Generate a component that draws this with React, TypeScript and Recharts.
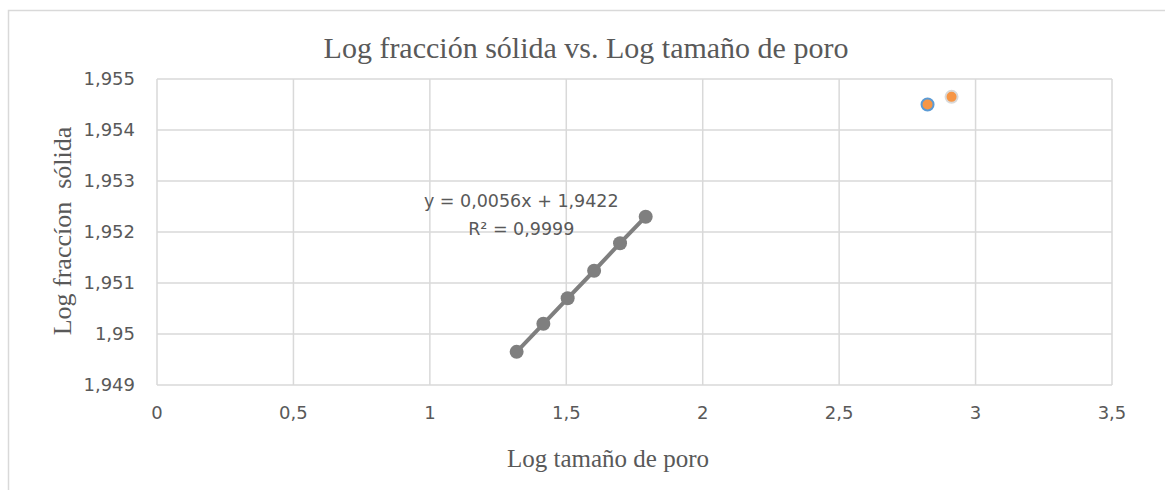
import React from 'react';
import { ScatterChart, Scatter, XAxis, YAxis, CartesianGrid, ReferenceDot } from 'recharts';

const logPore = [1.318, 1.416, 1.505, 1.602, 1.697, 1.791];
const logSolid = [1.94965, 1.9502, 1.9507, 1.95124, 1.95178, 1.9523];
const extraAX = [2.824];
const extraAY = [1.9545];
const extraBX = [2.912];
const extraBY = [1.95465];
const xTicks = [0, 0.5, 1, 1.5, 2, 2.5, 3, 3.5];
const yTicks = [1.949, 1.95, 1.951, 1.952, 1.953, 1.954, 1.955];
const title = 'Log fracción sólida vs. Log tamaño de poro';
const xTitle = 'Log tamaño de poro';
const yTitle = 'Log fraccíon  sólida';
const eqLine1 = 'y = 0,0056x + 1,9422';
const eqLine2 = 'R² = 0,9999';

const mainData = logPore.map((x, i) => ({ x, y: logSolid[i] }));
const aData = extraAX.map((x, i) => ({ x, y: extraAY[i] }));
const bData = extraBX.map((x, i) => ({ x, y: extraBY[i] }));

const fmt = (v: number) => String(v).replace('.', ',');
const GRAY = '#595959';
const tickStyle = { fontFamily: 'DejaVu Sans', fontSize: 18, fill: GRAY };

const dot = (r: number, fill: string, stroke: string, sw: number) => (props: any) => (
  <circle cx={props.cx} cy={props.cy} r={r} fill={fill} stroke={stroke} strokeWidth={sw} />
);

const eqLabel = (text: string) => (props: any) => {
  const vb = props.viewBox || {};
  return (
    <text x={vb.x} y={vb.y} textAnchor="middle" dominantBaseline="central" fontFamily="DejaVu Sans" fontSize={17.5} fill={GRAY}>
      {text}
    </text>
  );
};

export default function App() {
  return (
    <div style={{ position: 'absolute', left: 0, top: 0, width: 1165, height: 490, background: '#fff', overflow: 'hidden' }}>
      <ScatterChart width={1165} height={490} margin={{ top: 79, right: 53, bottom: 75, left: 97 }}>
        <CartesianGrid stroke="#d9d9d9" strokeWidth={1.5} />
        <XAxis
          type="number"
          dataKey="x"
          domain={[0, 3.5]}
          ticks={xTicks}
          tickFormatter={fmt}
          axisLine={false}
          tickLine={false}
          tickSize={0}
          tickMargin={21}
          height={30}
          tick={tickStyle}
          allowDataOverflow
        />
        <YAxis
          type="number"
          dataKey="y"
          domain={[1.949, 1.955]}
          ticks={yTicks}
          tickFormatter={fmt}
          axisLine={false}
          tickLine={false}
          tickSize={0}
          tickMargin={22}
          width={60}
          tick={tickStyle}
          allowDataOverflow
        />
        <Scatter
          data={mainData}
          isAnimationActive={false}
          line={{ stroke: '#7f7f7f', strokeWidth: 4 }}
          lineType="joint"
          fill="#7f7f7f"
          shape={dot(7, '#7f7f7f', 'none', 0)}
        />
        <Scatter data={aData} isAnimationActive={false} fill="#F79646" shape={dot(6, '#F79646', '#5B9BD5', 2)} />
        <Scatter data={bData} isAnimationActive={false} fill="#F79646" shape={dot(6, '#F79646', '#D9D9D9', 2)} />
        <ReferenceDot x={1.335} y={1.95261} r={0} fill="none" stroke="none" isFront label={eqLabel(eqLine1)} />
        <ReferenceDot x={1.335} y={1.95206} r={0} fill="none" stroke="none" isFront label={eqLabel(eqLine2)} />
      </ScatterChart>
      <svg width={1165} height={490} style={{ position: 'absolute', left: 0, top: 0, pointerEvents: 'none' }}>
        <rect x={8.5} y={10.5} width={1200} height={520} fill="none" stroke="#d9d9d9" strokeWidth={1.5} />
        <text x={586} y={58} textAnchor="middle" fontFamily="Liberation Serif" fontSize={30} fill={GRAY}>{title}</text>
        <text x={608} y={467} textAnchor="middle" fontFamily="Liberation Serif" fontSize={25} fill={GRAY}>{xTitle}</text>
        <text x={71} y={231} textAnchor="middle" fontFamily="Liberation Serif" fontSize={26} fill={GRAY} transform="rotate(-90, 71, 231)" style={{ whiteSpace: 'pre' }}>{yTitle}</text>
      </svg>
    </div>
  );
}
